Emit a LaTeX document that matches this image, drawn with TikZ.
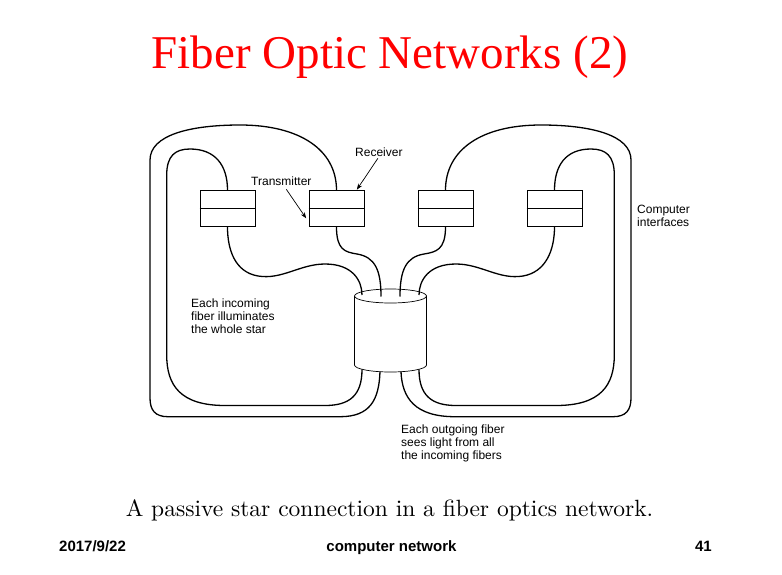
\documentclass[tikz,border=0pt]{standalone}
\usepackage{fontspec}
\newfontfamily\arialf{Liberation Sans}
\newfontfamily\timesf{Liberation Serif}
\newfontfamily\lmten{lmroman10-regular.otf}
\usetikzlibrary{calc,arrows.meta}
\begin{document}
\begin{tikzpicture}[x=1pt,y=-1pt,
  fiber/.style={line width=1.3pt},
  ifbox/.style={draw, line width=0.7pt, minimum width=55pt, minimum height=36pt, inner sep=0pt},
  thin/.style={line width=0.7pt},
  lbl/.style={font=\arialf\fontsize{12}{12.8}\selectfont, align=left, inner sep=0pt},
  foot/.style={font=\arialf\bfseries\fontsize{15}{15}\selectfont, inner sep=0pt},
  arr/.style={line width=0.7pt, -{Stealth[length=6pt,width=4.5pt]}},
]
\useasboundingbox (0,0) rectangle (782,574);

% title
\node[anchor=base, text=red, font=\timesf\fontsize{47}{50}\selectfont, inner sep=0pt] (title) at (390,68.3) {Fiber Optic Networks (2)};

% interface boxes
\node[ifbox] (b1) at (227.5,208.5) {};
\node[ifbox] (b2) at (336.5,208.5) {};
\node[ifbox] (b3) at (445.5,208.5) {};
\node[ifbox] (b4) at (554.5,208.5) {};
\foreach \b in {b1,b2,b3,b4} { \draw[thin] (\b.west) -- (\b.east); }

% passive star (cylinder)
\node[minimum width=72pt, minimum height=83pt, inner sep=0pt] (star) at (390.5,330.5) {};
\draw[thin] (390.5,296) ellipse [x radius=36pt, y radius=7pt];
\draw[thin] (354.5,296) -- (354.5,365) arc[start angle=180, end angle=360, x radius=36pt, y radius=7pt] -- (426.5,296);
\coordinate (t1) at (362,295);
\coordinate (t2) at (381,296.5);
\coordinate (t3) at (400,296.5);
\coordinate (t4) at (419,295);
\coordinate (s1) at (362,369.3);
\coordinate (s2) at (380,371.6);
\coordinate (s3) at (401,371.6);
\coordinate (s4) at (419,369.3);

% fibers: box bottoms to star top
\draw[fiber] (b1.south) .. controls (227.5,250) and (235,272) .. (258,276)
  .. controls (282,280) and (300,264) .. (325,264)
  .. controls (352,264) and (362,280) .. (t1);
\draw[fiber] (b2.south) .. controls (336.5,250) and (345,252) .. (357,254)
  .. controls (375,257) and (381,270) .. (t2);
\draw[fiber] (b3.south) .. controls (445.5,250) and (436,252) .. (424,254)
  .. controls (406,257) and (400,270) .. (t3);
\draw[fiber] (b4.south) .. controls (554.5,250) and (546,272) .. (523,276)
  .. controls (499,280) and (481,264) .. (456,264)
  .. controls (429,264) and (419,280) .. (t4);

% fibers: star bottom to box tops
\draw[fiber] (s1) .. controls (362,395) and (350,405.5) .. (325,405.5) -- (225,405.5)
  .. controls (180,405.5) and (166.7,385) .. (166.7,355) -- (166.7,175)
  .. controls (166.7,156) and (175,149) .. (190,149)
  .. controls (215,149) and (227.5,165) .. (b1.north);
\draw[fiber] (s2) .. controls (379,400) and (370,416.7) .. (340,416.7) -- (168,416.7)
  .. controls (155,416.7) and (150,410) .. (150,398) -- (150,160)
  .. controls (150,135) and (190,125) .. (240,125)
  .. controls (300,125) and (336.5,150) .. (b2.north);
\draw[fiber] (s3) .. controls (402,398) and (415,416.7) .. (455,416.7) -- (613,416.7)
  .. controls (626,416.7) and (631,410) .. (631,398) -- (631,160)
  .. controls (631,135) and (591,125) .. (541,125)
  .. controls (481,125) and (445.5,150) .. (b3.north);
\draw[fiber] (s4) .. controls (419,395) and (431,405.5) .. (456,405.5) -- (556,405.5)
  .. controls (601,405.5) and (614.3,385) .. (614.3,355) -- (614.3,175)
  .. controls (614.3,156) and (606,149) .. (591,149)
  .. controls (566,149) and (554.5,165) .. (b4.north);

% labels (base anchor = baseline of the last line)
\node[lbl, anchor=base west] (recv) at (355,156) {Receiver};
\node[lbl, anchor=base west] (trans) at (251,185.5) {Transmitter};
\draw[arr] ($(recv.south)+(-1,2)$) -- ($(b2.north east)+(-7.5,-0.5)$);
\draw[arr] ($(trans.south)+(5,3.5)$) -- ($(b2.west)+(-2.5,9.8)$);
\node[lbl, anchor=base west] (ci) at (637,226.5) {Computer\\interfaces};
\node[lbl, anchor=base west] (inc) at (191,333) {Each incoming\\fiber illuminates\\the whole star};
\node[lbl, anchor=base west] (outg) at (401,459) {Each outgoing fiber\\sees light from all\\the incoming fibers};

% caption and footer
\node[anchor=base, font=\lmten\fontsize{23.5}{25}\selectfont, inner sep=0pt] (cap) at (389.5,516.5) {A passive star connection in a fiber optics network.};
\node[foot, anchor=base west] (date) at (59,551.7) {2017/9/22};
\node[foot, anchor=base] (course) at (391.5,551.7) {computer network};
\node[foot, anchor=base east] (page) at (712,551.7) {41};
\end{tikzpicture}
\end{document}
